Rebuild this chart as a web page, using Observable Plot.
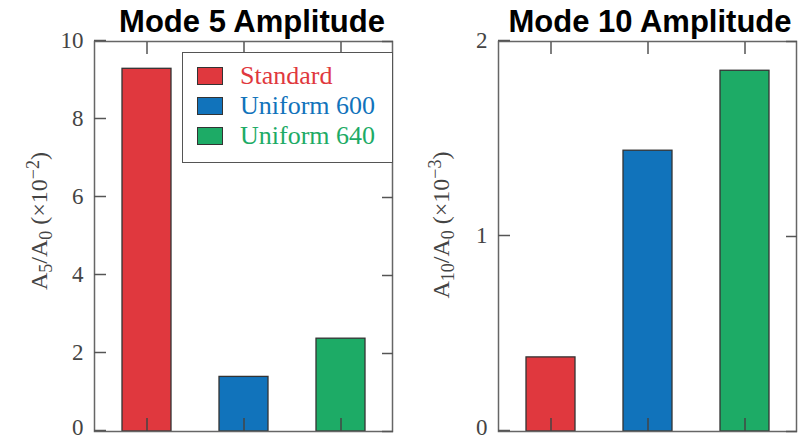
<!DOCTYPE html>
<html><head><meta charset="utf-8">
<script src="https://cdn.jsdelivr.net/npm/d3@7"></script>
<script src="https://cdn.jsdelivr.net/npm/@observablehq/plot@0.6"></script>
<style>
body{margin:0;background:#fff}
#wrap{position:relative;width:805px;height:439px;overflow:hidden;background:#fff}
.panel{position:absolute;top:0}
.title{position:absolute;font-family:"Liberation Sans",Arial,sans-serif;font-weight:bold;font-size:31px;line-height:31px;color:#000;white-space:nowrap;transform:translateX(-50%)}
.ylab{position:absolute;font-family:"Liberation Serif","Times New Roman",serif;font-size:24px;line-height:26px;color:#444;white-space:nowrap;transform:translate(-50%,-50%) rotate(-90deg)}
.ylab sub{font-size:0.75em;vertical-align:-0.25em;line-height:0}
.ylab sup{font-size:0.75em;vertical-align:0.45em;line-height:0}
.legend{position:absolute;background:#fff;border:1.5px solid #555;box-sizing:border-box}
.sw{position:absolute;width:26px;height:18px;border:1.5px solid #333;box-sizing:border-box}
.lt{position:absolute;font-family:"Liberation Serif","Times New Roman",serif;font-size:26px;line-height:26px;white-space:nowrap}
</style></head>
<body>
<div id="wrap"></div>
<script>
const categories = ["Standard", "Uniform 600", "Uniform 640"];
const colors = ["#e0383e", "#1173bb", "#1dab66"];
const mode5Values = [9.3, 1.4, 2.38];
const mode10Values = [0.38, 1.44, 1.85];
const mode5Ticks = [0, 2, 4, 6, 8, 10];
const mode10Ticks = [0, 1, 2];
const titles = ["Mode 5 Amplitude", "Mode 10 Amplitude"];

function panel(values, ticks, width, ml, mr) {
  const data = categories.map((c, i) => ({cat: c, v: values[i]}));
  const ymax = ticks[ticks.length - 1];
  const fmt = d3.format("d");
  return Plot.plot({
    width, height: 439,
    marginLeft: ml, marginRight: mr, marginTop: 41, marginBottom: 8,
    style: {fontFamily: "'Liberation Serif', 'Times New Roman', serif", fontSize: "23px", color: "#444", background: "transparent", overflow: "visible"},
    x: {domain: categories, paddingInner: 0.5, paddingOuter: 0.285, axis: null},
    y: {domain: [0, ymax], axis: null},
    color: {domain: categories, range: colors},
    marks: [
      Plot.barY(data, {x: "cat", y: "v", fill: "cat", stroke: "#333", strokeWidth: 1.3}),
      Plot.frame({stroke: "#666", strokeWidth: 1.5}),
      Plot.axisY({anchor: "left", ticks, tickSize: -12, tickPadding: 23, tickFormat: d => d === 0 ? "" : fmt(d), label: null, stroke: "#555", strokeWidth: 1.5, dy: -1}),
      Plot.axisY({anchor: "left", ticks: [0], tickSize: 0, tickPadding: 11, tickFormat: fmt, label: null, dy: -4}),
      Plot.axisY({anchor: "right", ticks, tickSize: -11, tickFormat: () => "", label: null, stroke: "#555", strokeWidth: 1.5}),
      Plot.axisX({anchor: "bottom", tickSize: -13, tickFormat: () => "", label: null, stroke: "#444", strokeWidth: 1.5}),
      Plot.axisX({anchor: "top", tickSize: -12, tickFormat: () => "", label: null, stroke: "#555", strokeWidth: 1.5})
    ]
  });
}

const wrap = document.getElementById("wrap");
const p1 = panel(mode5Values, mode5Ticks, 400, 94, 8);
p1.classList.add("panel"); p1.style.left = "0px";
wrap.appendChild(p1);
const p2 = panel(mode10Values, mode10Ticks, 405, 98, 9);
p2.classList.add("panel"); p2.style.left = "400px";
wrap.appendChild(p2);

function addTitle(text, cx, top) {
  const d = document.createElement("div");
  d.className = "title"; d.textContent = text;
  d.style.left = cx + "px"; d.style.top = top + "px";
  wrap.appendChild(d);
}
addTitle(titles[0], 252, 6);
addTitle(titles[1], 650, 6);

function addYLabel(html, cx, cy) {
  const d = document.createElement("div");
  d.className = "ylab"; d.innerHTML = html;
  d.style.left = cx + "px"; d.style.top = cy + "px";
  wrap.appendChild(d);
}
addYLabel("A<sub>5</sub>/A<sub>0</sub> (×10<sup>−2</sup>)", 39, 221);
addYLabel("A<sub>10</sub>/A<sub>0</sub> (×10<sup>−3</sup>)", 441, 225);

// legend
const lg = document.createElement("div");
lg.className = "legend";
Object.assign(lg.style, {left: "182px", top: "52px", width: "211px", height: "111px"});
categories.forEach((c, i) => {
  const s = document.createElement("div");
  s.className = "sw";
  s.style.background = colors[i];
  s.style.left = "14px"; s.style.top = (14 + 30 * i) + "px";
  lg.appendChild(s);
  const t = document.createElement("div");
  t.className = "lt"; t.textContent = c; t.style.color = colors[i];
  t.style.left = "57px"; t.style.top = (10 + 30 * i) + "px";
  lg.appendChild(t);
});
wrap.appendChild(lg);
</script>
</body></html>
